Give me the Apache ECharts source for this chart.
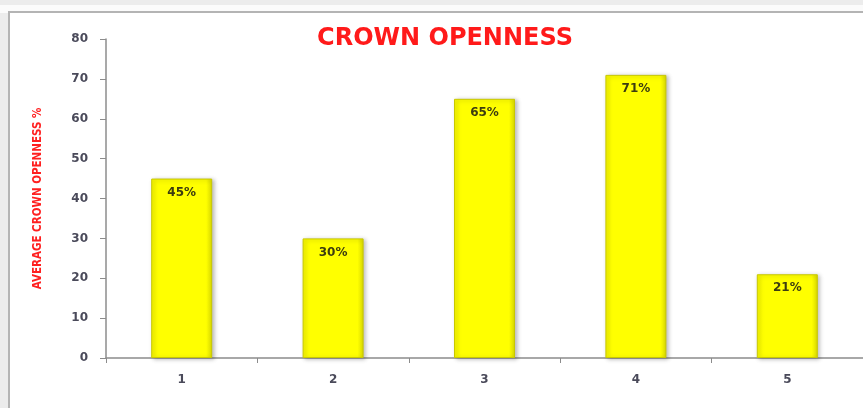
<!DOCTYPE html>
<html><head><meta charset="utf-8">
<script src="https://cdn.jsdelivr.net/npm/echarts@6/dist/echarts.min.js"></script>
<style>html,body{margin:0;padding:0;background:#ececec;}#c{width:863px;height:408px;}</style>
</head><body><div id="c"></div>
<script>
const categories = ['1', '2', '3', '4', '5'];
const values = [45, 30, 65, 71, 21];
const yTicks = [0, 10, 20, 30, 40, 50, 60, 70, 80];

const chart = echarts.init(document.getElementById('c'), null, {renderer: 'canvas'});
chart.setOption({
  animation: false,
  backgroundColor: '#ececec',
  graphic: [{
    type: 'rect', z: -10, silent: true,
    shape: {x: 9, y: 12, width: 900, height: 420},
    style: {fill: '#ffffff', stroke: '#b4b4b4', lineWidth: 2}
  }, {
    type: 'rect', z: -11, silent: true,
    shape: {x: 0, y: 5, width: 863, height: 8},
    style: {fill: '#fbfbfb'}
  }],
  title: {
    text: 'CROWN OPENNESS',
    left: 440, top: 22, textAlign: 'center',
    textStyle: {color: '#ff1a1a', fontFamily: 'DejaVu Sans', fontWeight: 'bold', fontSize: 24}
  },
  grid: {left: 106, top: 39, width: 768, height: 319, containLabel: false},
  xAxis: {
    type: 'category', data: categories,
    axisLine: {lineStyle: {color: '#8c8c8c', width: 1.5}},
    axisTick: {show: true, length: 5, lineStyle: {color: '#8c8c8c'}},
    axisLabel: {margin: 16, color: '#4a4a5a', fontFamily: 'DejaVu Sans', fontWeight: 'bold', fontSize: 12}
  },
  yAxis: {
    type: 'value', min: 0, max: 80, interval: 10,
    name: 'AVERAGE CROWN OPENNESS %', nameLocation: 'middle', nameGap: 62, nameRotate: 90,
    nameTextStyle: {color: '#ff2020', fontFamily: 'DejaVu Sans Condensed', fontWeight: 'bold', fontSize: 11.5},
    axisLine: {show: true, lineStyle: {color: '#8c8c8c', width: 1.5}},
    axisTick: {show: true, length: 6, lineStyle: {color: '#8c8c8c'}},
    splitLine: {show: false},
    axisLabel: {margin: 18, color: '#4a4a5a', fontFamily: 'DejaVu Sans', fontWeight: 'bold', fontSize: 12,
      formatter: v => yTicks.includes(v) ? String(v) : ''}
  },
  series: [{
    type: 'bar', data: values, barWidth: 61,
    itemStyle: {
      color: {type: 'linear', x: 0, y: 0, x2: 1, y2: 0, colorStops: [
        {offset: 0, color: '#f4f400'}, {offset: 0.1, color: '#ffff00'}, {offset: 0.9, color: '#ffff00'}, {offset: 1, color: '#d8d800'}]},
      borderColor: '#c8c800', borderWidth: 1,
      shadowColor: 'rgba(0,0,0,0.25)', shadowBlur: 4, shadowOffsetX: 2, shadowOffsetY: 1
    },
    label: {show: true, position: 'insideTop', distance: 8, formatter: p => p.value + '%',
      color: '#3c3c10', fontFamily: 'DejaVu Sans', fontWeight: 'bold', fontSize: 12}
  }]
});
</script></body></html>
